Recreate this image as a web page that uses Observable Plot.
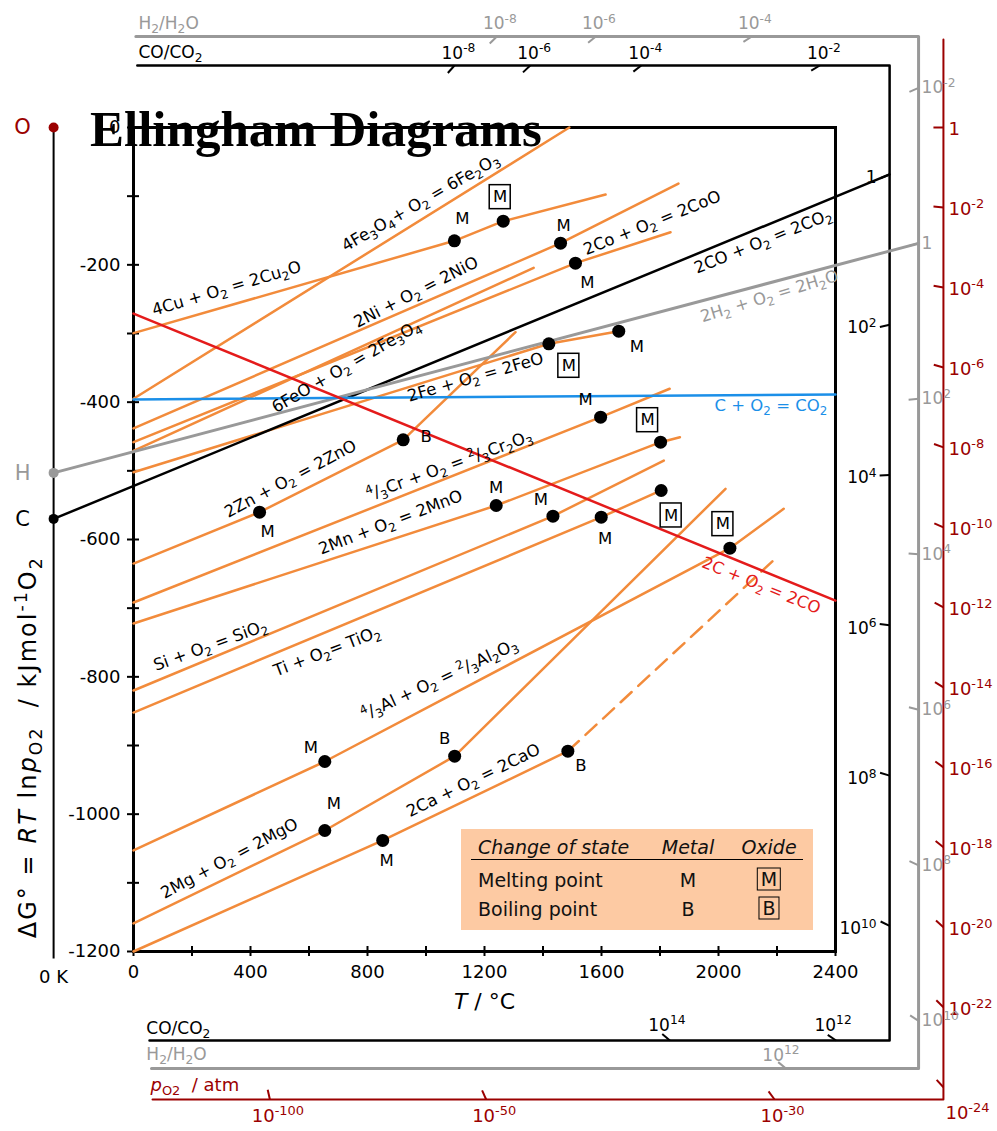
<!DOCTYPE html>
<html><head><meta charset="utf-8">
<script src="https://cdn.jsdelivr.net/npm/d3@7"></script>
<script src="https://cdn.jsdelivr.net/npm/@observablehq/plot@0.6"></script>
<style>
body{margin:0;background:#fff;}
#wrap{position:relative;width:997px;height:1131px;font-family:"DejaVu Sans",sans-serif;}
#wrap svg{position:absolute;left:0;top:0;}
#title{position:absolute;left:90px;top:104px;font:bold 51px/51px "Liberation Serif","Times New Roman",serif;color:#000;white-space:nowrap;z-index:2;}
#legend{position:absolute;left:461px;top:829px;width:352px;height:101px;background:#fdcaa3;font-size:19px;color:#111;z-index:2;}
#legend span{position:absolute;white-space:nowrap;transform:translate(0,-50%);line-height:1;}
#legend span.c{transform:translate(-50%,-50%);}
#legend .it{font-style:italic;}
#legend .box{border:1.5px solid #000;padding:1px 3px;}
#legend .rule{position:absolute;left:10px;top:30px;width:332px;border-top:1.5px solid #000;}
</style></head>
<body><div id="wrap">
<div id="title">Ellingham Diagrams</div>
<div id="legend">
<span class="it" style="left:17px;top:18px">Change of state</span>
<span class="it c" style="left:227px;top:18px">Metal</span>
<span class="it c" style="left:308px;top:18px">Oxide</span>
<div class="rule"></div>
<span style="left:17px;top:51px">Melting point</span>
<span class="c" style="left:227px;top:51px">M</span>
<span class="c box" style="left:308px;top:50px">M</span>
<span style="left:17px;top:80px">Boiling point</span>
<span class="c" style="left:227px;top:80px">B</span>
<span class="c box" style="left:308px;top:79px">B</span>
</div>
</div>
<script>
// ---------- axes ----------
const xTicks = d3.range(0, 2401, 200);
const xLabels = d3.range(0, 2401, 400);
const yTicks = d3.range(-1200, 1, 100);
const yLabels = d3.range(-1200, 1, 200);

// ---------- oxide lines [T °C, ΔG kJ/mol O2] ----------
const Cu2O  = [[0,-299.5],[1097,-165],[1264,-136.4],[1614,-97.6]];
const Fe2O3 = [[0,-395],[1490,0]];
const NiO   = [[0,-438.3],[1460,-168.5],[1863,-81.6]];
const CoO   = [[0,-458.3],[1511,-197.6],[1836,-152.5]];
const Fe3O4 = [[0,-471],[1368,-204.3]];
const FeO   = [[0,-502],[1420,-315],[1659,-296.6]];
const ZnO   = [[0,-635],[431,-560.2],[922,-454.8],[1306,-298]];
const Cr2O3 = [[0,-691.7],[1597,-421.9],[1833,-380.5]];
const MnO   = [[0,-722.3],[1240,-550.5],[1802,-458.3],[1868,-451]];
const SiO2  = [[0,-819.9],[1434,-566],[1813,-485]];
const TiO2  = [[0,-852],[1599,-567.5],[1804,-528.6]];
const Al2O3 = [[0,-1052.9],[654,-923.3],[2039,-612.6],[2223,-555.3]];
const MgO   = [[0,-1159.2],[654,-1023.8],[1098,-915.5],[2024,-526.2]];
const CaO   = [[0,-1200],[852,-1038.3],[1485,-908.3]];
const CaOvap = [[1485,-908.3],[2206,-623.3]];

// gas reactions
const K0 = 273.15;
const CO2fromCO = [[-K0,-570],[2585,-68.4]];
const H2O       = [[-K0,-503],[2684,-168.7]];
const CO2fromC  = [[0,-396],[2400,-389]];
const COfromC   = [[0,-271],[2400,-689]];

// change-of-state points
const metalMelt = [[1097,-165],[1460,-168.5],[1511,-197.6],[1659,-296.6],[431,-560.2],[1597,-421.9],[1240,-550.5],[1434,-566],[1599,-567.5],[654,-923.3],[654,-1023.8],[852,-1038.3]];
const metalBoil = [[922,-454.8],[1098,-915.5],[1485,-908.3]];
const oxideMelt = [[1264,-136.4],[1420,-315],[1802,-458.3],[1804,-528.6],[2039,-612.6]];

// nomographic scale exponents
const pO2Right = [0,-2,-4,-6,-8,-10,-12,-14,-16,-18,-20,-22,-24];
const pO2Bottom = [-100,-50,-30];
const coRight = [0,2,4,6,8,10];
const coTop = [-8,-6,-4,-2];
const coBottom = [14,12];
const h2Right = [-2,0,2,4,6,8,10];
const h2Top = [-8,-6,-4];
const h2Bottom = [12];

// ---------- layout (annotation placement) ----------
const W = 997, Hh = 1131, mL = 133, mR = 162, mT = 127, mB = 180;
const kx = (W - mL - mR) / 2400, ky = (Hh - mT - mB) / 1200;
const orange = "#f28b3b", red = "#e41b1b", blue = "#1b8fe8", gray = "#999999", darkred = "#9b0000";
const R = 0.008314, LN10 = Math.LN10;
const O = [-K0, 0], Hp = [-K0, -503], Cp = [-K0, -570];
const redFrame   = [[2769,128],[2769,-1415.5],[65,-1415.5]];
const grayFrame  = [[8,132.5],[2684,132.5],[2684,-1370.3],[61.5,-1370.3]];
const blackFrame = [[13,90.3],[2585,90.3],[2585,-1329.6],[54.7,-1329.6]];

const metalMeltOff = [[8,-22],[3,-17],[12,20],[18,16],[8,20],[-15,-17],[0,-18],[-12,-16],[4,22],[-14,-14],[9,-27],[4,20]];
const metalBoilOff = [[23,-3],[-10,-17],[13,15]];
const oxideMeltOff = [[-3,-24],[20,22],[-13,-22],[10,25],[-7,-24]];

const reactionLabels = [
  {t:"4Cu + O_{2} = 2Cu_{2}O", T:318, G:-234.5, a:-16.7, c:"black"},
  {t:"4Fe_{3}O_{4}+ O_{2} = 6Fe_{2}O_{3}", T:981, G:-109.2, a:-30, c:"black"},
  {t:"2Ni + O_{2} = 2NiO", T:966, G:-240, a:-27, c:"black"},
  {t:"2Co + O_{2} = 2CoO", T:1773, G:-139, a:-22, c:"black"},
  {t:"6FeO + O_{2} = 2Fe_{3}O_{4}", T:728, G:-348, a:-30, c:"black"},
  {t:"2Fe + O_{2} = 2FeO", T:1169, G:-363.6, a:-16, c:"black"},
  {t:"2CO + O_{2} = 2CO_{2}", T:2152, G:-165.7, a:-22, c:"black"},
  {t:"2H_{2} + O_{2} = 2H_{2}O", T:2174, G:-245.8, a:-17, c:gray},
  {t:"2C + O_{2} = 2CO", T:2146, G:-667, a:22, c:red},
  {t:"2Zn + O_{2} = 2ZnO", T:537, G:-511.6, a:-28, c:"black"},
  {t:"^{4}/_{3}Cr + O_{2} = ^{2}/_{3}Cr_{2}O_{3}", T:1080, G:-492.2, a:-20, c:"black"},
  {t:"2Mn + O_{2} = 2MnO", T:879, G:-575.2, a:-21, c:"black"},
  {t:"Si + O_{2} = SiO_{2}", T:263, G:-754.4, a:-20, c:"black"},
  {t:"Ti + O_{2}= TiO_{2}", T:662, G:-762.8, a:-21, c:"black"},
  {t:"^{4}/_{3}Al + O_{2} = ^{2}/_{3}Al_{2}O_{3}", T:1046, G:-803.9, a:-25, c:"black"},
  {t:"2Mg + O_{2} = 2MgO", T:328, G:-1064.5, a:-28, c:"black"},
  {t:"2Ca + O_{2} = 2CaO", T:1162, G:-951, a:-26, c:"black"}
];

// ---------- helpers ----------
const lbl = e => e === 0 ? "1" : `10^{${e}}`;
function towards(p, q, len) {
  const dx = (q[0]-p[0])*kx, dy = (q[1]-p[1])*ky, L = Math.hypot(dx, dy), f = len / L;
  return [p[0] + (q[0]-p[0])*f, p[1] + (q[1]-p[1])*f];
}
function edgePoint(pole, s, edge) {
  if (edge.T !== undefined) return [edge.T, pole[1] + s*(edge.T + K0)];
  return [(edge.G - pole[1]) / s - K0, edge.G];
}
function scale(pole, slope, exps, edge) {
  return exps.map(e => {
    const p = edgePoint(pole, slope(e), edge), q = towards(p, pole, 10);
    return {x1: p[0], y1: p[1], x2: q[0], y2: q[1], label: lbl(e), e};
  });
}
const slopeOf = l => (l[1][1]-l[0][1]) / (l[1][0]-l[0][0]);
const sCO = slopeOf(CO2fromCO), sH2 = slopeOf(H2O);
const pO2s = e => R*LN10*e;
const COs = e => sCO - 2*R*LN10*e;
const H2s = e => sH2 - 2*R*LN10*e;

const rRight = scale(O, pO2s, pO2Right, {T: redFrame[0][0]});
const rBottom = scale(O, pO2s, pO2Bottom, {G: redFrame[1][1]});
const cRight = scale(Cp, COs, coRight, {T: blackFrame[1][0]});
const cTop = scale(Cp, COs, coTop, {G: blackFrame[0][1]});
const cBottom = scale(Cp, COs, coBottom, {G: blackFrame[2][1]});
const hRight = scale(Hp, H2s, h2Right, {T: grayFrame[1][0]});
const hTop = scale(Hp, H2s, h2Top, {G: grayFrame[0][1]});
const hBottom = scale(Hp, H2s, h2Bottom, {G: grayFrame[2][1]});

const tickMarks = (data, color) => Plot.link(data, {x1:"x1", y1:"y1", x2:"x2", y2:"y2", stroke: color, strokeWidth: 2});
const tickText = (data, color, opts) => Plot.text(data, {x:"x1", y:"y1", text:"label", fill: color, fontSize: 17, ...opts});

const ev = (pts, offs) => pts.map((p, i) => ({T: p[0], G: p[1], lx: p[0] + offs[i][0]/kx, ly: p[1] - offs[i][1]/ky}));
const mm = ev(metalMelt, metalMeltOff), mb = ev(metalBoil, metalBoilOff), om = ev(oxideMelt, oxideMeltOff);
const bw = 10.5/kx, bh = 12/ky;

const oxides = [Cu2O, Fe2O3, NiO, CoO, Fe3O4, FeO, ZnO, Cr2O3, MnO, SiO2, TiO2, Al2O3, MgO, CaO];

const plot = Plot.plot({
  width: W, height: Hh,
  marginLeft: mL, marginRight: mR, marginTop: mT, marginBottom: mB,
  x: {domain: [0, 2400]}, y: {domain: [-1200, 0]},
  style: {fontFamily: '"DejaVu Sans", sans-serif', fontSize: "16px", overflow: "visible", background: "white", color: "black"},
  marks: [
    // nomographic frames
    Plot.line(redFrame, {stroke: darkred, strokeWidth: 2}),
    Plot.line(grayFrame, {stroke: gray, strokeWidth: 3}),
    Plot.line(blackFrame, {stroke: "black", strokeWidth: 2.5}),
    tickMarks(rRight, darkred), tickMarks(rBottom, darkred),
    tickMarks(cRight, "black"), tickMarks(cTop, "black"), tickMarks(cBottom, "black"),
    tickMarks(hRight, gray), tickMarks(hTop, gray), tickMarks(hBottom, gray),
    tickText(rRight.filter(d => d.e !== -24), darkred, {textAnchor: "start", dx: 5, dy: 2, fontSize: 18}),
    tickText(rBottom, darkred, {dx: 8, dy: 17, fontSize: 18}),
    Plot.text([redFrame[1]], {x: "0", y: "1", text: () => "10^{-24}", fill: darkred, fontSize: 18, textAnchor: "start", dx: 2, dy: 14}),
    tickText(cRight, "black", {textAnchor: "end", dx: -13, dy: 3}),
    tickText(cTop, "black", {dx: 4, dy: -12}),
    tickText(cBottom, "black", {dx: -3, dy: -15}),
    tickText(hRight, gray, {textAnchor: "start", dx: 3, dy: 0}),
    tickText(hTop, gray, {dx: 3, dy: -13}),
    tickText(hBottom, gray, {dx: -5, dy: -13}),
    Plot.text(["H_{2}/H_{2}O"], {x: 17, y: 151.5, text: d => d, fill: gray, textAnchor: "start", fontSize: 17}),
    Plot.text(["CO/CO_{2}"], {x: 17, y: 109.2, text: d => d, fill: "black", textAnchor: "start", fontSize: 17}),
    Plot.text(["CO/CO_{2}"], {x: 44, y: -1312, text: d => d, fill: "black", textAnchor: "start", fontSize: 17}),
    Plot.text(["H_{2}/H_{2}O"], {x: 44, y: -1350, text: d => d, fill: gray, textAnchor: "start", fontSize: 17}),
    Plot.text(["~{p}_{O2}  / atm"], {x: 58, y: -1395, text: d => d, fill: darkred, textAnchor: "start", fontSize: 18}),
    // main frame & axes
    Plot.frame({stroke: "black", strokeWidth: 3}),
    Plot.ruleY(yTicks, {x1: -6/kx, x2: 6/kx, strokeWidth: 2}),
    Plot.ruleX(xTicks, {y1: -1200 - 5/ky, y2: -1200 + 5/ky, strokeWidth: 2}),
    Plot.axisY({ticks: yLabels, tickSize: 0, tickPadding: 13, fontSize: 18, tickFormat: d => String(d), label: null}),
    Plot.axisX({ticks: xLabels, tickSize: 0, tickPadding: 14, fontSize: 18, tickFormat: d => String(d), label: null}),
    Plot.text(["~{T} / °C"], {x: 1200, y: -1200, text: d => d, dy: 50, fontSize: 22}),
    // 0 K axis
    Plot.ruleX([-K0], {y1: 0, y2: -1211, strokeWidth: 2}),
    Plot.text(["0 K"], {x: -K0, y: -1200, text: d => d, dy: 26, fontSize: 18}),
    Plot.text(["ΔG° = ~{RT} ln~{p}_{O2}  / kJmol^{-1}O_{2}"], {x: -K0, y: -904, text: d => d, dx: -25, rotate: -90, fontSize: 24}),
    // gas lines
    ...oxides.map(d => Plot.line(d, {stroke: orange, strokeWidth: 2.5})),
    Plot.line(CaOvap, {stroke: orange, strokeWidth: 2.5, strokeDasharray: "15,9"}),
    Plot.line(CO2fromCO, {stroke: "black", strokeWidth: 2.5}),
    Plot.line(H2O, {stroke: gray, strokeWidth: 3}),
    Plot.line(CO2fromC, {stroke: blue, strokeWidth: 2.5}),
    Plot.line(COfromC, {stroke: red, strokeWidth: 2.5}),
    // poles
    Plot.dot([O], {x: "0", y: "1", r: 5, fill: darkred}),
    Plot.dot([Hp], {x: "0", y: "1", r: 5, fill: gray}),
    Plot.dot([Cp], {x: "0", y: "1", r: 5, fill: "black"}),
    Plot.text([O], {x: "0", y: "1", text: () => "O", dx: -31, fill: darkred, fontSize: 21}),
    Plot.text([Hp], {x: "0", y: "1", text: () => "H", dx: -31, fill: gray, fontSize: 21}),
    Plot.text([Cp], {x: "0", y: "1", text: () => "C", dx: -31, fill: "black", fontSize: 21}),
    // reaction labels
    ...reactionLabels.map(d => Plot.text([d], {x: "T", y: "G", text: "t", rotate: d.a, fill: d.c, fontSize: 16.5})),
    Plot.text(["C + O_{2} = CO_{2}"], {x: 2372, y: -404.8, text: d => d, textAnchor: "end", fill: blue, fontSize: 16.5}),
    // change-of-state markers
    Plot.dot([...mm, ...mb, ...om], {x: "T", y: "G", r: 6.5, fill: "black"}),
    Plot.text(mm, {x: "lx", y: "ly", text: () => "M", fontSize: 16.5}),
    Plot.text(mb, {x: "lx", y: "ly", text: () => "B", fontSize: 16.5}),
    Plot.rect(om, {x1: d => d.lx - bw, x2: d => d.lx + bw, y1: d => d.ly - bh, y2: d => d.ly + bh, fill: "white", stroke: "black", strokeWidth: 1.5}),
    Plot.text(om, {x: "lx", y: "ly", text: () => "M", fontSize: 16.5})
  ]
});

document.getElementById("wrap").prepend(plot);

// rich text: ^{sup} _{sub} ~{italic}
for (const t of plot.querySelectorAll("text")) {
  const s = t.textContent;
  if (!/[\^_~]\{/.test(s)) continue;
  const fs = parseFloat(getComputedStyle(t).fontSize) || 16;
  while (t.firstChild) t.removeChild(t.firstChild);
  let shift = 0;
  const re = /([\^_~])\{([^}]*)\}|([^\^_~]+)|([\^_~])/g;
  let m;
  while ((m = re.exec(s))) {
    const ts = document.createElementNS("http://www.w3.org/2000/svg", "tspan");
    let target = 0, size = null, italic = false, str;
    if (m[1]) {
      str = m[2];
      if (m[1] === "^") { target = -0.38*fs; size = 0.72*fs; }
      else if (m[1] === "_") { target = 0.24*fs; size = 0.72*fs; }
      else italic = true;
    } else str = m[3] || m[4];
    const d = target - shift;
    if (d) ts.setAttribute("dy", d.toFixed(2));
    shift = target;
    if (size) ts.setAttribute("font-size", size.toFixed(2));
    if (italic) ts.setAttribute("font-style", "italic");
    ts.textContent = str;
    t.appendChild(ts);
  }
  if (s.startsWith("ΔG°")) { t.setAttribute("textLength", "380"); t.setAttribute("lengthAdjust", "spacing"); }
}
</script>
</body></html>
